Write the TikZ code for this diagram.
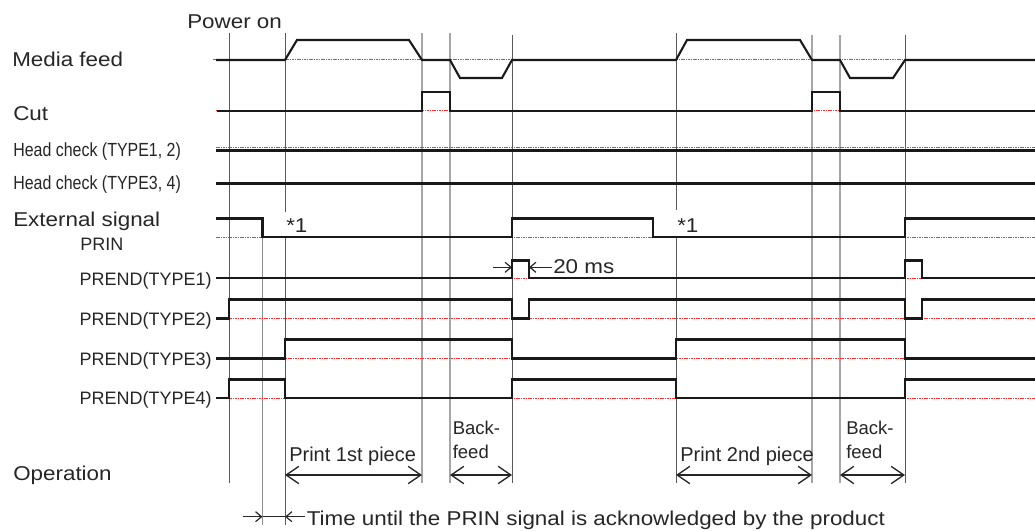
\documentclass[tikz,border=0pt]{standalone}
\usepackage{fontspec}
\setmainfont{Liberation Sans}
\newfontfamily\widefam{Liberation Sans}[FakeStretch=1.12]
\newfontfamily\condfam{Liberation Sans}[FakeStretch=0.84]
\usetikzlibrary{arrows.meta}
\newcommand\fA{\fontsize{15pt}{18pt}\selectfont\widefam}
\newcommand\fHC{\fontsize{14.25pt}{17pt}\selectfont\condfam}
\newcommand\fPR{\fontsize{13.5pt}{16pt}\selectfont\rmfamily}
\newcommand\fPL{\fontsize{15pt}{18pt}\selectfont\rmfamily}
\newcommand\fBF{\fontsize{13.9pt}{17pt}\selectfont\rmfamily}
\definecolor{dotred}{RGB}{255,50,50}
\tikzset{
  sig/.style={line width=1.55pt, black!90, line join=miter},
  basel/.style={dotred, line width=0.75pt, dash pattern=on 1.2pt off 0.6pt},
  vl/.style={black!65, line width=0.75pt},
  vll/.style={black!35, line width=1.3pt},
  vlt/.style={black!45, line width=0.6pt},
  lbl/.style={inner sep=0pt, anchor=base west, text=black!85},
  lblr/.style={inner sep=0pt, anchor=base east, text=black!85},
  opar/.style={line width=1pt, black!85, {Straight Barb[length=9.5pt,width=13pt]}-{Straight Barb[length=9.5pt,width=13pt]}},
  smar/.style={line width=0.9pt, black!85, -{Straight Barb[length=4.5pt,width=7.5pt]}},
}
\begin{document}
\begin{tikzpicture}[x=0.75pt,y=-0.75pt]
\useasboundingbox (0,0) rectangle (1035,531);
\fill[white] (0,0) rectangle (1035,531);

% ---- vertical time lines ----
\draw[vl] (229,33) -- (229,483);
\draw[vlt] (262.5,218.5) -- (262.5,525);
\draw[vl] (285,33) -- (285,212);
\draw[vl] (285,237) -- (285,525);
\draw[vll] (422,33) -- (422,483);
\draw[vll] (450,33) -- (450,483);
\draw[vl] (512,35) -- (512,483);
\draw[vl] (676,33) -- (676,210);
\draw[vl] (676,237) -- (676,483);
\draw[vll] (812,35) -- (812,483);
\draw[vll] (840,35) -- (840,483);
\draw[vl] (905,35) -- (905,483);

% ---- red base lines ----
\draw[basel] (213,60) -- (1035,60);
\draw[basel] (216,111) -- (1035,111);
\draw[basel] (216,147.5) -- (1035,147.5);
\draw[basel] (216,237) -- (1035,237);
\draw[basel] (216,278) -- (1035,278);
\draw[basel] (216,318.5) -- (1035,318.5);
\draw[basel] (216,358.5) -- (1035,358.5);
\draw[basel] (216,398) -- (1035,398);

% ---- signals ----
% Media feed
\draw[sig] (216,60) -- (285,60) -- (297,40) -- (409,40) -- (422,60) -- (450,60) -- (460,78) -- (502,78) -- (512,60)
  -- (676,60) -- (687,40) -- (800,40) -- (812,60) -- (840,60) -- (850,78) -- (893,78) -- (905,60) -- (1035,60);
% Cut
\draw[sig] (217,111) -- (422,111) -- (422,92) -- (450,92) -- (450,111) -- (812,111) -- (812,92) -- (840,92) -- (840,111) -- (1035,111);
% Head checks
\draw[sig] (216,150.5) -- (1035,150.5);
\draw[sig] (216,183.5) -- (1035,183.5);
% PRIN
\draw[sig] (216,218.5) -- (262.5,218.5) -- (262.5,237) -- (512,237) -- (512,218.5) -- (653,218.5) -- (653,237) -- (905,237) -- (905,218.5) -- (1035,218.5);
% PREND(TYPE1)
\draw[sig] (216,278) -- (512,278) -- (512,260.5) -- (529,260.5) -- (529,278) -- (905,278) -- (905,260.5) -- (922,260.5) -- (922,278) -- (1035,278);
% PREND(TYPE2)
\draw[sig] (216,318.5) -- (229,318.5) -- (229,299.5) -- (512,299.5) -- (512,318.5) -- (529,318.5) -- (529,299.5) -- (905,299.5) -- (905,318.5) -- (922,318.5) -- (922,299.5) -- (1035,299.5);
% PREND(TYPE3)
\draw[sig] (216,358.5) -- (285,358.5) -- (285,339.5) -- (512,339.5) -- (512,358.5) -- (676,358.5) -- (676,339.5) -- (905,339.5) -- (905,358.5) -- (1035,358.5);
% PREND(TYPE4)
\draw[sig] (216,398) -- (229,398) -- (229,379.5) -- (285,379.5) -- (285,398) -- (512,398) -- (512,379.5) -- (676,379.5) -- (676,398) -- (905,398) -- (905,379.5) -- (1035,379.5);

% ---- labels ----
\node[lbl, font=\fA] (pwr) at (187,29) {Power on};
\node[lbl, font=\fA] (mf) at (12,66.7) {Media feed};
\node[lbl, font=\fA] (cut) at (13,120.7) {Cut};
\node[lbl, font=\fHC] (hc12) at (13,156.7) {Head check (TYPE1, 2)};
\node[lbl, font=\fHC] (hc34) at (13,189.3) {Head check (TYPE3, 4)};
\node[lbl, font=\fA] (ext) at (13,226.7) {External signal};
\node[lbl, font=\fPR] (prin) at (80,250) {PRIN};
\node[lblr, font=\fPR] (pe1) at (212,285) {PREND(TYPE1)};
\node[lblr, font=\fPR] (pe2) at (212,325) {PREND(TYPE2)};
\node[lblr, font=\fPR] (pe3) at (212,365) {PREND(TYPE3)};
\node[lblr, font=\fPR] (pe4) at (212,404) {PREND(TYPE4)};
\node[lbl, font=\fA] (st1) at (286,233) {*1};
\node[lbl, font=\fA] (st2) at (677,233) {*1};
\node[lbl, font=\fA] (ms) at (553,273.3) {20 ms};
\node[lbl, font=\fBF] (bk1) at (452.5,434.3) {Back-};
\node[lbl, font=\fBF] (fd1) at (452.5,458) {feed};
\node[lbl, font=\fBF] (bk2) at (846,434.3) {Back-};
\node[lbl, font=\fBF] (fd2) at (846,458) {feed};
\node[lbl, font=\fPL] (pr1) at (289,461) {Print 1st piece};
\node[lbl, font=\fPL] (pr2) at (680,461) {Print 2nd piece};
\node[lbl, font=\fA] (op) at (13,480) {Operation};
\node[lbl, font=\fA] (tu) at (306.5,525) {Time until the PRIN signal is acknowledged by the product};

% ---- operation arrows ----
\coordinate (o1a) at (285,475); \coordinate (o1b) at (422,475);
\coordinate (o2a) at (450,475); \coordinate (o2b) at (512,475);
\coordinate (o3a) at (676,475); \coordinate (o3b) at (812,475);
\coordinate (o4a) at (840,475); \coordinate (o4b) at (905,475);
\draw[opar] (o1a) -- (o1b);
\draw[opar] (o2a) -- (o2b);
\draw[opar] (o3a) -- (o3b);
\draw[opar] (o4a) -- (o4b);

% ---- 20 ms marks ----
\coordinate (ma) at (493,267.3); \coordinate (mb) at (512,267.3);
\coordinate (mc) at (552,267.3); \coordinate (md) at (529,267.3);
\draw[smar] (ma) -- (mb);
\draw[smar] (mc) -- (md);

% ---- time-until marks ----
\coordinate (ua) at (243,516.7); \coordinate (ub) at (262.5,516.7);
\coordinate (uc) at (305,516.7); \coordinate (ud) at (285,516.7);
\draw[smar] (ua) -- (ub);
\draw[line width=0.9pt, black!85] (ub) -- (ud);
\draw[smar] (uc) -- (ud);
\end{tikzpicture}
\end{document}
